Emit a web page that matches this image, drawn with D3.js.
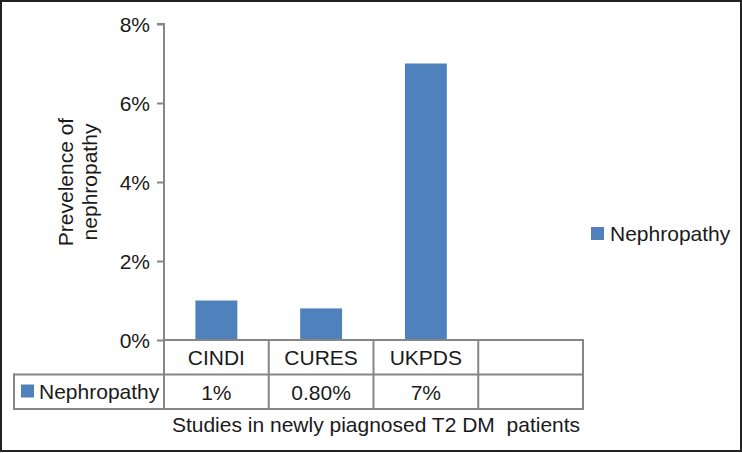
<!DOCTYPE html>
<html>
<head>
<meta charset="utf-8">
<script src="https://cdn.jsdelivr.net/npm/d3@7"></script>
<style>
  body { margin: 0; background: #fff; }
  text { font-family: "Liberation Sans", Arial, sans-serif; fill: #1a1a1a; }
</style>
</head>
<body>
<svg id="chart" width="742" height="453"></svg>
<script>
// chart data
const categories = ["CINDI", "CURES", "UKPDS", ""];
const values = [0.01, 0.008, 0.07, null];
const valueLabels = ["1%", "0.80%", "7%", ""];
const yTicks = [0, 0.02, 0.04, 0.06, 0.08];
const seriesName = "Nephropathy";

const svg = d3.select("#chart");
const barColor = "#4f81bd";
const gridColor = "#868686";
const fs = 21;

const x = d3.scaleBand().domain(categories).range([164, 583]).padding(0);
const y = d3.scaleLinear().domain([0, 0.08]).range([340, 24]);
const rowH = 34.5;

// outer frame
svg.append("rect")
  .attr("x", 1).attr("y", 1)
  .attr("width", 740).attr("height", 450)
  .attr("fill", "none")
  .attr("stroke", "#222")
  .attr("stroke-width", 2);

// bars
const bw = x.bandwidth() * 0.4;
svg.append("g")
  .selectAll("rect")
  .data(categories.map((c, i) => ({ c, v: values[i] })).filter((d) => d.v != null))
  .join("rect")
  .attr("x", (d) => x(d.c) + (x.bandwidth() - bw) / 2)
  .attr("y", (d) => y(d.v))
  .attr("width", bw)
  .attr("height", (d) => y(0) - y(d.v))
  .attr("fill", barColor);

// y axis
const yAxis = svg.append("g")
  .attr("transform", "translate(164,0)")
  .call(d3.axisLeft(y).tickValues(yTicks).tickFormat(d3.format(".0%")).tickSize(7).tickPadding(7));
yAxis.select(".domain").attr("stroke", gridColor).attr("stroke-width", 2).attr("d", `M-7,${y(0.08)}H0V${y(0)}`);
yAxis.selectAll(".tick line").attr("stroke", gridColor).attr("stroke-width", 2);
yAxis.selectAll(".tick text")
  .attr("font-size", fs)
  .attr("fill", "#1a1a1a")
  .attr("dy", "0.35em")
  .style("font-family", "Liberation Sans, Arial, sans-serif");

// y title (two lines)
const yTitle = svg.append("text")
  .attr("transform", "translate(85,182) rotate(-90)")
  .attr("text-anchor", "middle")
  .attr("font-size", fs);
yTitle.append("tspan").attr("x", 0).attr("y", -12).text("Prevelence of");
yTitle.append("tspan").attr("x", 0).attr("y", 12).text("nephropathy");

// data table
const table = svg.append("g");
const tableTop = y(0);
const left = 14;
const right = x.range()[1];
const lines = [
  [x.range()[0], tableTop, right, tableTop],
  [left, tableTop + rowH, right, tableTop + rowH],
  [left, tableTop + 2 * rowH, right, tableTop + 2 * rowH],
  [left, tableTop + rowH, left, tableTop + 2 * rowH],
];
categories.forEach((c) => lines.push([x(c) + x.bandwidth(), tableTop, x(c) + x.bandwidth(), tableTop + 2 * rowH]));
lines.push([x.range()[0], tableTop, x.range()[0], tableTop + 2 * rowH]);
table.selectAll("line")
  .data(lines)
  .join("line")
  .attr("x1", (d) => d[0]).attr("y1", (d) => d[1])
  .attr("x2", (d) => d[2]).attr("y2", (d) => d[3])
  .attr("stroke", gridColor)
  .attr("stroke-width", 2)
  .attr("stroke-linecap", "square");

table.selectAll("text.cat")
  .data(categories)
  .join("text")
  .attr("class", "cat")
  .attr("x", (d) => x(d) + x.bandwidth() / 2)
  .attr("y", tableTop + 25)
  .attr("text-anchor", "middle")
  .attr("font-size", fs)
  .text((d) => d);

table.selectAll("text.val")
  .data(categories)
  .join("text")
  .attr("class", "val")
  .attr("x", (d) => x(d) + x.bandwidth() / 2)
  .attr("y", tableTop + rowH + 25.5)
  .attr("text-anchor", "middle")
  .attr("font-size", fs)
  .text((d, i) => valueLabels[i]);

table.append("rect")
  .attr("x", 21).attr("y", tableTop + rowH + 10)
  .attr("width", 13).attr("height", 13)
  .attr("fill", barColor);
table.append("text")
  .attr("x", 39).attr("y", tableTop + rowH + 24)
  .attr("font-size", fs)
  .text(seriesName);

// x title
svg.append("text")
  .attr("x", 376).attr("y", 432)
  .attr("text-anchor", "middle")
  .attr("font-size", fs)
  .attr("xml:space", "preserve")
  .text("Studies in newly piagnosed T2 DM  patients");

// legend
const legend = svg.append("g").attr("transform", "translate(591,227)");
legend.append("rect").attr("width", 13).attr("height", 13).attr("fill", barColor);
legend.append("text").attr("x", 19).attr("y", 14).attr("font-size", fs).text(seriesName);
</script>
</body>
</html>
